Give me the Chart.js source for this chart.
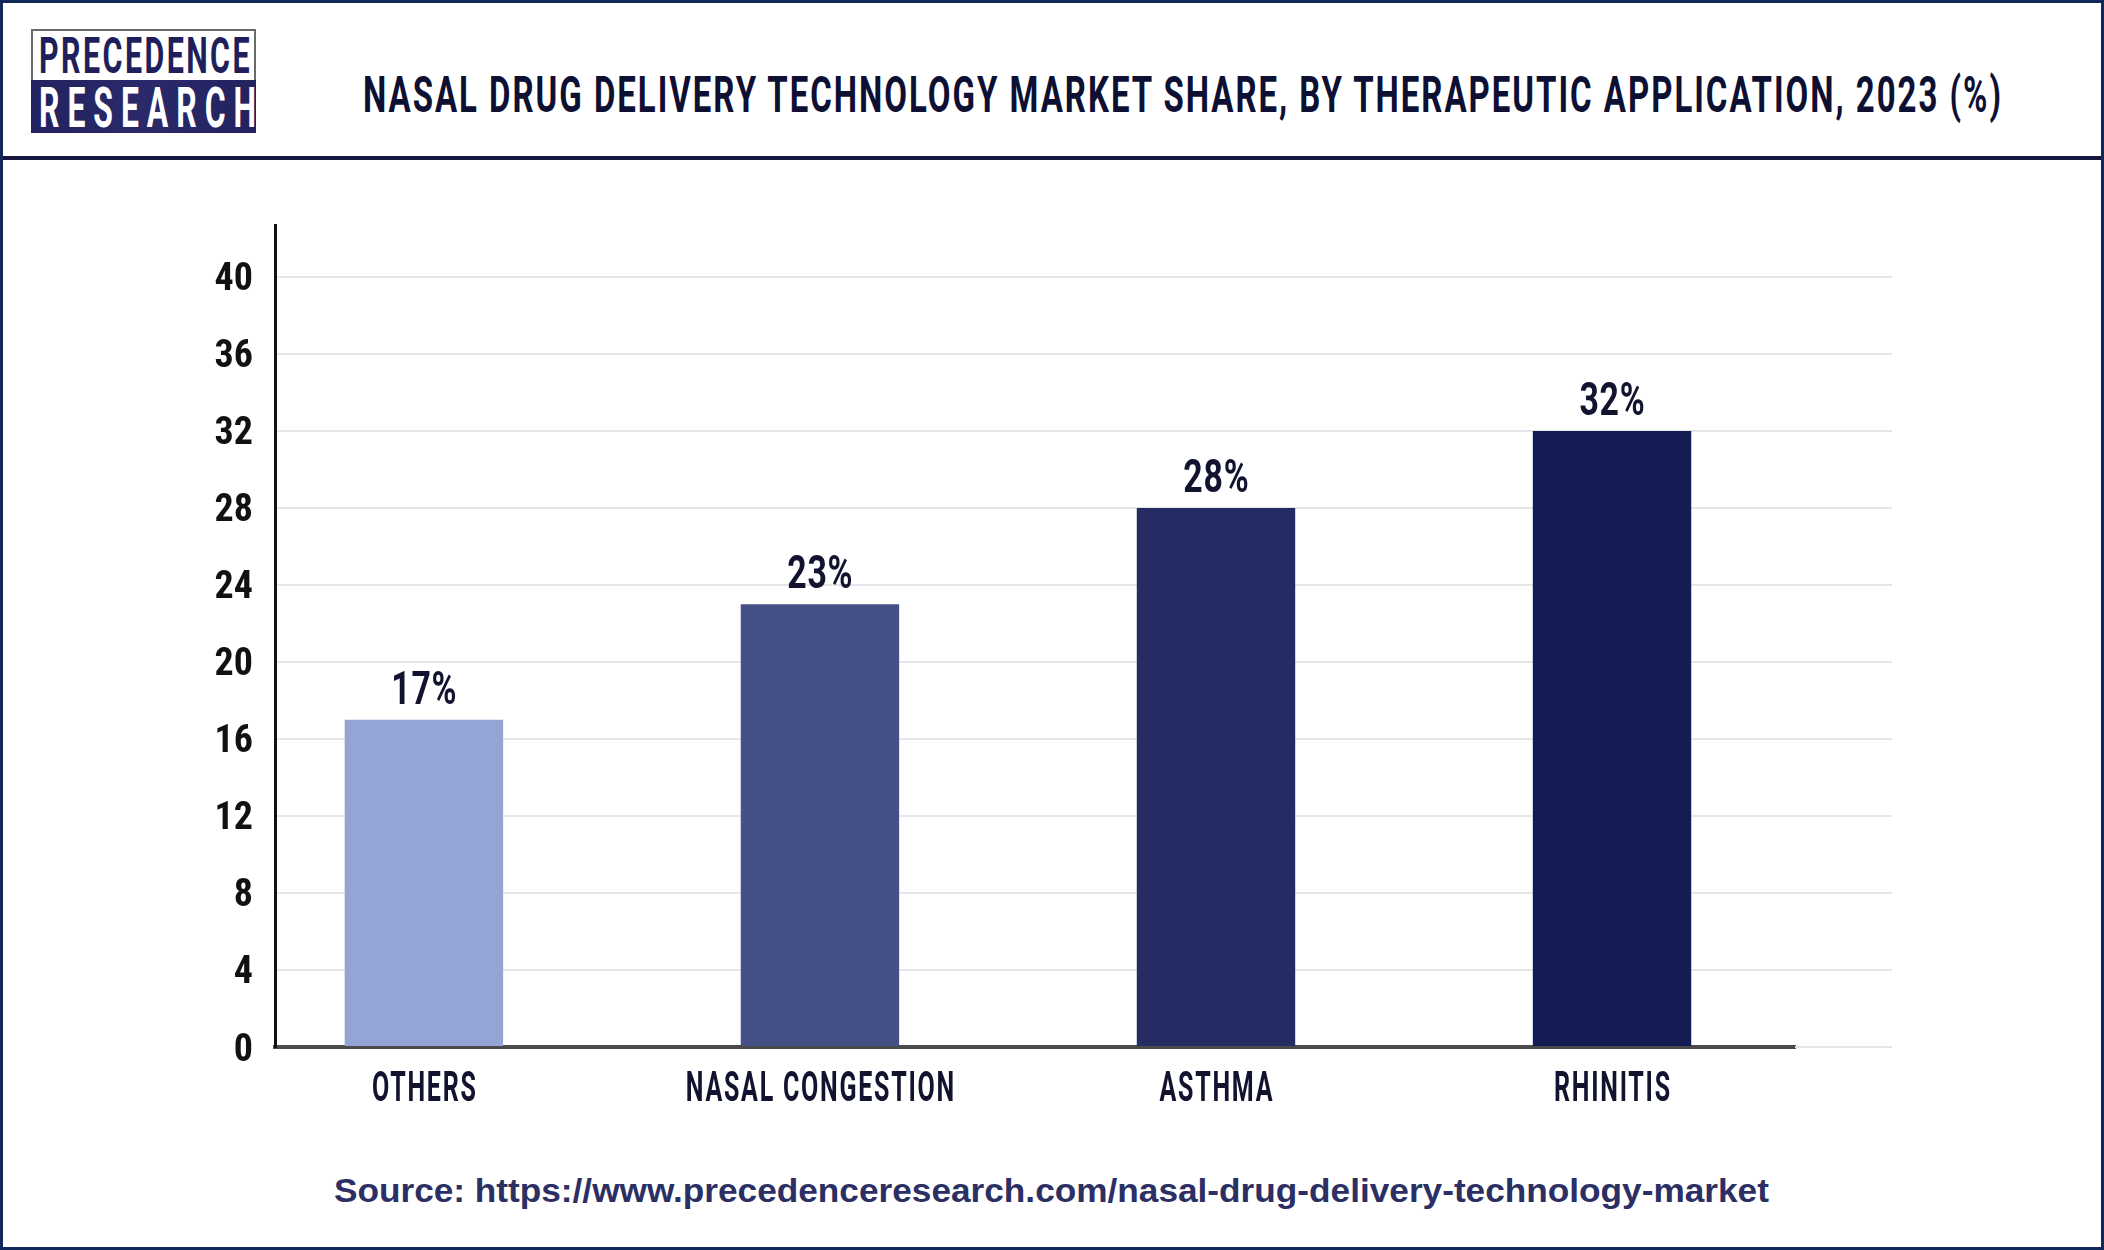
<!DOCTYPE html>
<html>
<head>
<meta charset="utf-8">
<title>Nasal Drug Delivery Technology Market Share</title>
<script src="https://cdn.jsdelivr.net/npm/chart.js@4.4.0/dist/chart.umd.min.js"></script>
<style>
  html, body { margin: 0; padding: 0; background: #ffffff; }
  #page { position: relative; width: 2104px; height: 1250px; overflow: hidden; background: #ffffff; }
  #frame { position: absolute; left: 0; top: 0; width: 2104px; height: 1250px; box-sizing: border-box; border: 3px solid #10295a; pointer-events: none; z-index: 10; }
  #headLine { position: absolute; left: 0; top: 156px; width: 2104px; height: 4px; background: #16163f; }
  #logoTop { position: absolute; left: 31px; top: 29px; width: 225px; height: 51px; box-sizing: border-box; border: 2px solid #6a6a6a; border-bottom: none; background: #ffffff; }
  #logoBot { position: absolute; left: 31px; top: 80px; width: 225px; height: 53px; background: linear-gradient(90deg, #22225f, #2a2a6b 50%, #22225f); }
  .fit { position: absolute; display: inline-block; white-space: nowrap; transform-origin: 0 0; margin: 0; }
  #logoT1 { left: 39px; top: 31px; font: 700 50px/50px Roboto, "Liberation Sans", sans-serif; color: #1f1f5c; letter-spacing: 4px; }
  #logoT2 { left: 39px; top: 80px; font: 700 56px/56px Roboto, "Liberation Sans", sans-serif; color: #ffffff; letter-spacing: 14px; }
  #title { left: 363px; top: 70px; font: 700 50px/50px Roboto, "Liberation Sans", sans-serif; color: #0e1033; letter-spacing: 3px; }
  #source { top: 1174px; font: 700 33px/33px "Liberation Sans", Arial, sans-serif; color: #2b2f63; transform-origin: 50% 0; }
  #chartBox { position: absolute; left: 0; top: 170px; width: 2104px; height: 980px; }
</style>
</head>
<body>
<div id="page">
  <div id="logoTop"></div>
  <div id="logoBot"></div>
  <div id="logoT1" class="fit">PRECEDENCE</div>
  <div id="logoT2" class="fit">RESEARCH</div>
  <div id="title" class="fit">NASAL DRUG DELIVERY TECHNOLOGY MARKET SHARE, BY THERAPEUTIC APPLICATION, 2023 (%)</div>
  <div id="headLine"></div>
  <div id="chartBox"><canvas id="chart" width="2104" height="980"></canvas></div>
  <div id="source" class="fit">Source: https://www.precedenceresearch.com/nasal-drug-delivery-technology-market</div>
  <div id="frame"></div>
</div>
<script>
// ---------- data ----------
const categories = ['OTHERS', 'NASAL CONGESTION', 'ASTHMA', 'RHINITIS'];
const shares = [17, 23, 28, 32];
const barColors = ['#93a4d5', '#455087', '#252b63', '#131d54'];
const yTickValues = [0, 4, 8, 12, 16, 20, 24, 28, 32, 36, 40];
const valueSuffix = '%';

// category axis extent (in category-index units), like min/max of a numeric axis
const xAxisStart = -0.376;
const xAxisEnd = 3.462;

// ---------- html text fitting ----------
function fitWidth(id, target, centerX) {
  const el = document.getElementById(id);
  el.style.transform = 'none';
  const w = el.getBoundingClientRect().width;
  const s = target / w;
  if (centerX !== undefined) {
    el.style.left = (centerX - w / 2) + 'px';
  }
  el.style.transform = 'scaleX(' + s + ')';
}
function fitAll() {
  fitWidth('logoT1', 213);
  fitWidth('logoT2', 225);
  fitWidth('title', 1640);
  fitWidth('source', 1435, 1051);
}
fitAll();

// ---------- font detection for narrow tick font ----------
function hasFont(name) {
  const c = document.createElement('canvas').getContext('2d');
  const sample = 'mmmmmmmmwwwlli0123456789';
  const res = ['monospace', 'serif'].map(base => {
    c.font = '72px ' + base;
    const a = c.measureText(sample).width;
    c.font = '72px "' + name + '", ' + base;
    const b = c.measureText(sample).width;
    return a !== b;
  });
  return res[0] || res[1];
}
const narrowCandidates = ['Liberation Sans Narrow', 'Arial Narrow', 'Roboto Condensed', 'DejaVu Sans Condensed'];
const narrowFont = narrowCandidates.find(hasFont);
const tickFont = narrowFont
  ? { family: '"' + narrowFont + '", Roboto, sans-serif', size: 38, weight: '700' }
  : { family: 'Roboto, sans-serif', size: 35, weight: '700' };

// ---------- condensed canvas text ----------
const labelInk = '#12142f';
function condensedScale(ctx, font, spacing, sample, target) {
  ctx.save();
  ctx.font = font;
  ctx.letterSpacing = spacing + 'px';
  const w = ctx.measureText(sample).width;
  ctx.restore();
  return target / w;
}
function drawCondensed(ctx, text, x, y, font, spacing, sx, color) {
  ctx.save();
  ctx.font = font;
  ctx.letterSpacing = spacing + 'px';
  ctx.fillStyle = color;
  ctx.textAlign = 'left';
  ctx.textBaseline = 'alphabetic';
  const w = ctx.measureText(text).width;
  ctx.translate(x, y);
  ctx.scale(sx, 1);
  ctx.fillText(text, -w / 2 + spacing / 2, 0);
  ctx.restore();
}

const catFont = '700 43px Roboto, "Liberation Sans", sans-serif';
const catSpacing = 3;
const valFont = '700 46px Roboto, "Liberation Sans", sans-serif';
const valSpacing = 1;

const gridExtend = {
  id: 'gridExtend',
  beforeDatasetsDraw(chart) {
    const { ctx, chartArea, scales } = chart;
    const y = scales.y;
    ctx.save();
    ctx.strokeStyle = '#e6e6ea';
    ctx.lineWidth = 2;
    y.ticks.forEach(t => {
      const py = Math.round(y.getPixelForValue(t.value));
      ctx.beginPath();
      ctx.moveTo(chartArea.right, py);
      ctx.lineTo(chartArea.right + 97, py);
      ctx.stroke();
    });
    ctx.restore();
  }
};

const labelsPlugin = {
  id: 'labelsPlugin',
  afterDraw(chart) {
    const { ctx, chartArea, scales } = chart;
    const meta = chart.getDatasetMeta(0);
    const catSx = condensedScale(ctx, catFont, catSpacing, 'NASAL CONGESTION', 270);
    const valSx = condensedScale(ctx, valFont, valSpacing, '17%', 66);
    meta.data.forEach((bar, i) => {
      drawCondensed(ctx, shares[i] + valueSuffix, bar.x, bar.y - 16, valFont, valSpacing, valSx, labelInk);
      const cx = scales.x.getPixelForTick(i);
      drawCondensed(ctx, categories[i], cx, chartArea.bottom + 54, catFont, catSpacing, catSx, labelInk);
    });
  }
};

new Chart(document.getElementById('chart'), {
  type: 'bar',
  data: {
    labels: categories,
    datasets: [{
      data: shares,
      backgroundColor: barColors,
      borderWidth: 0,
      barPercentage: 0.40,
      categoryPercentage: 1.0
    }]
  },
  options: {
    responsive: false,
    animation: false,
    devicePixelRatio: 1,
    layout: { padding: { left: 0, right: 309, top: 55, bottom: 103 } },
    plugins: { legend: { display: false }, tooltip: { enabled: false }, title: { display: false } },
    scales: {
      x: {
        grid: { display: false, drawTicks: false },
        border: { display: true, color: '#4a4a4a', width: 4 },
        ticks: { display: false },
        afterBuildTicks(scale) {
          scale._startValue = xAxisStart;
          scale._valueRange = xAxisEnd - xAxisStart;
        },
        afterFit(scale) { scale.height = 0; }
      },
      y: {
        min: 0,
        max: 42.7,
        afterBuildTicks(scale) { scale.ticks = yTickValues.map(v => ({ value: v })); },
        ticks: {
          color: '#111111',
          padding: 22,
          labelOffset: 4,
          font: tickFont,
          callback: v => String(v)
        },
        grid: { color: '#e6e6ea', lineWidth: 2, drawTicks: false },
        border: { display: true, color: '#111111', width: 3 },
        afterFit(scale) { scale.width = 275; }
      }
    }
  },
  plugins: [gridExtend, labelsPlugin]
});
</script>
</body>
</html>
